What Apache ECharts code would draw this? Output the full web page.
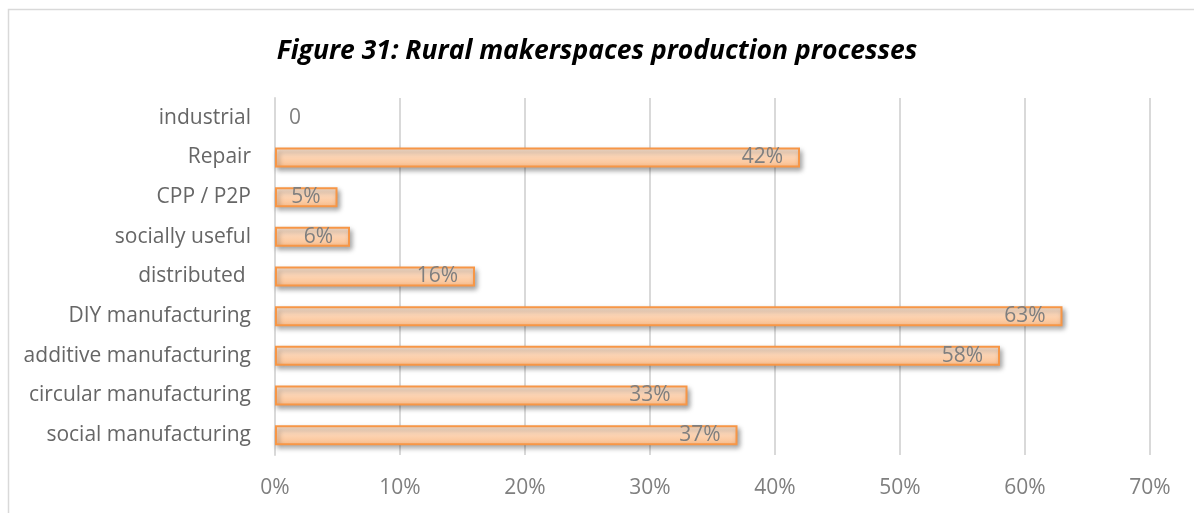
<!DOCTYPE html>
<html>
<head>
<meta charset="utf-8">
<script src="https://cdn.jsdelivr.net/npm/echarts@6/dist/echarts.min.js"></script>
<style>
  html, body { margin: 0; padding: 0; background: #fff; }
  #chart { width: 1194px; height: 513px; }
</style>
</head>
<body>
<div id="chart"></div>
<script>
// Production processes, listed bottom to top as drawn on the category axis
const categories = [
  'social manufacturing',
  'circular manufacturing',
  'additive manufacturing',
  'DIY manufacturing',
  'distributed ',
  'socially useful',
  'CPP / P2P',
  'Repair',
  'industrial'
];
// Share of rural makerspaces (percent)
const shares = [37, 33, 58, 63, 16, 6, 5, 42, 0];
// Value axis ticks (percent)
const axisMin = 0;
const axisMax = 70;
const axisStep = 10;

const chart = echarts.init(document.getElementById('chart'), null, { renderer: 'canvas' });

const labelFont = '"Open Sans", "Lato", sans-serif';

const barData = shares.map(v => {
  if (v === 0) {
    return {
      value: v,
      itemStyle: { borderWidth: 0, shadowBlur: 0, shadowOffsetX: 0, shadowOffsetY: 0, color: 'transparent' },
      label: { position: 'right', distance: 14, formatter: '0' }
    };
  }
  return { value: v };
});

chart.setOption({
  animation: false,
  backgroundColor: '#ffffff',
  graphic: [{
    type: 'rect',
    shape: { x: 8.5, y: 9.5, width: 1200, height: 520 },
    style: { fill: 'none', stroke: '#d9d9d9', lineWidth: 1.5 },
    silent: true
  }],
  title: {
    text: 'Figure 31: Rural makerspaces production processes',
    left: 'center',
    top: 33,
    textStyle: {
      fontFamily: labelFont,
      fontStyle: 'italic',
      fontWeight: 'bold',
      fontSize: 26.5,
      color: '#000000'
    }
  },
  grid: { left: 275, right: 44, top: 98, bottom: 58, containLabel: false },
  xAxis: {
    type: 'value',
    min: axisMin,
    max: axisMax,
    interval: axisStep,
    axisLine: { show: false },
    axisTick: { show: false },
    splitLine: { show: true, lineStyle: { color: '#d9d9d9', width: 2 } },
    axisLabel: {
      formatter: v => v + '%',
      color: '#7f7f7f',
      fontFamily: labelFont,
      fontSize: 21,
      margin: 23
    }
  },
  yAxis: {
    type: 'category',
    data: categories,
    axisLine: { show: true, lineStyle: { color: '#d9d9d9', width: 2 } },
    axisTick: { show: false },
    axisLabel: {
      color: '#666666',
      fontFamily: labelFont,
      fontSize: 21,
      margin: 24,
      padding: [4, 0, 0, 0]
    }
  },
  series: [{
    type: 'bar',
    data: barData,
    barWidth: 20,
    itemStyle: {
      color: new echarts.graphic.LinearGradient(0, 0, 0, 1, [
        { offset: 0, color: '#fde7d6' },
        { offset: 1, color: '#fbbf8e' }
      ]),
      borderColor: '#f79646',
      borderWidth: 2,
      shadowColor: 'rgba(0,0,0,0.35)',
      shadowBlur: 5,
      shadowOffsetX: 2,
      shadowOffsetY: 3
    },
    label: {
      show: true,
      position: 'insideRight',
      distance: 17,
      formatter: p => p.value + '%',
      color: '#7f7f7f',
      fontFamily: labelFont,
      fontSize: 21
    }
  }]
});
</script>
</body>
</html>
